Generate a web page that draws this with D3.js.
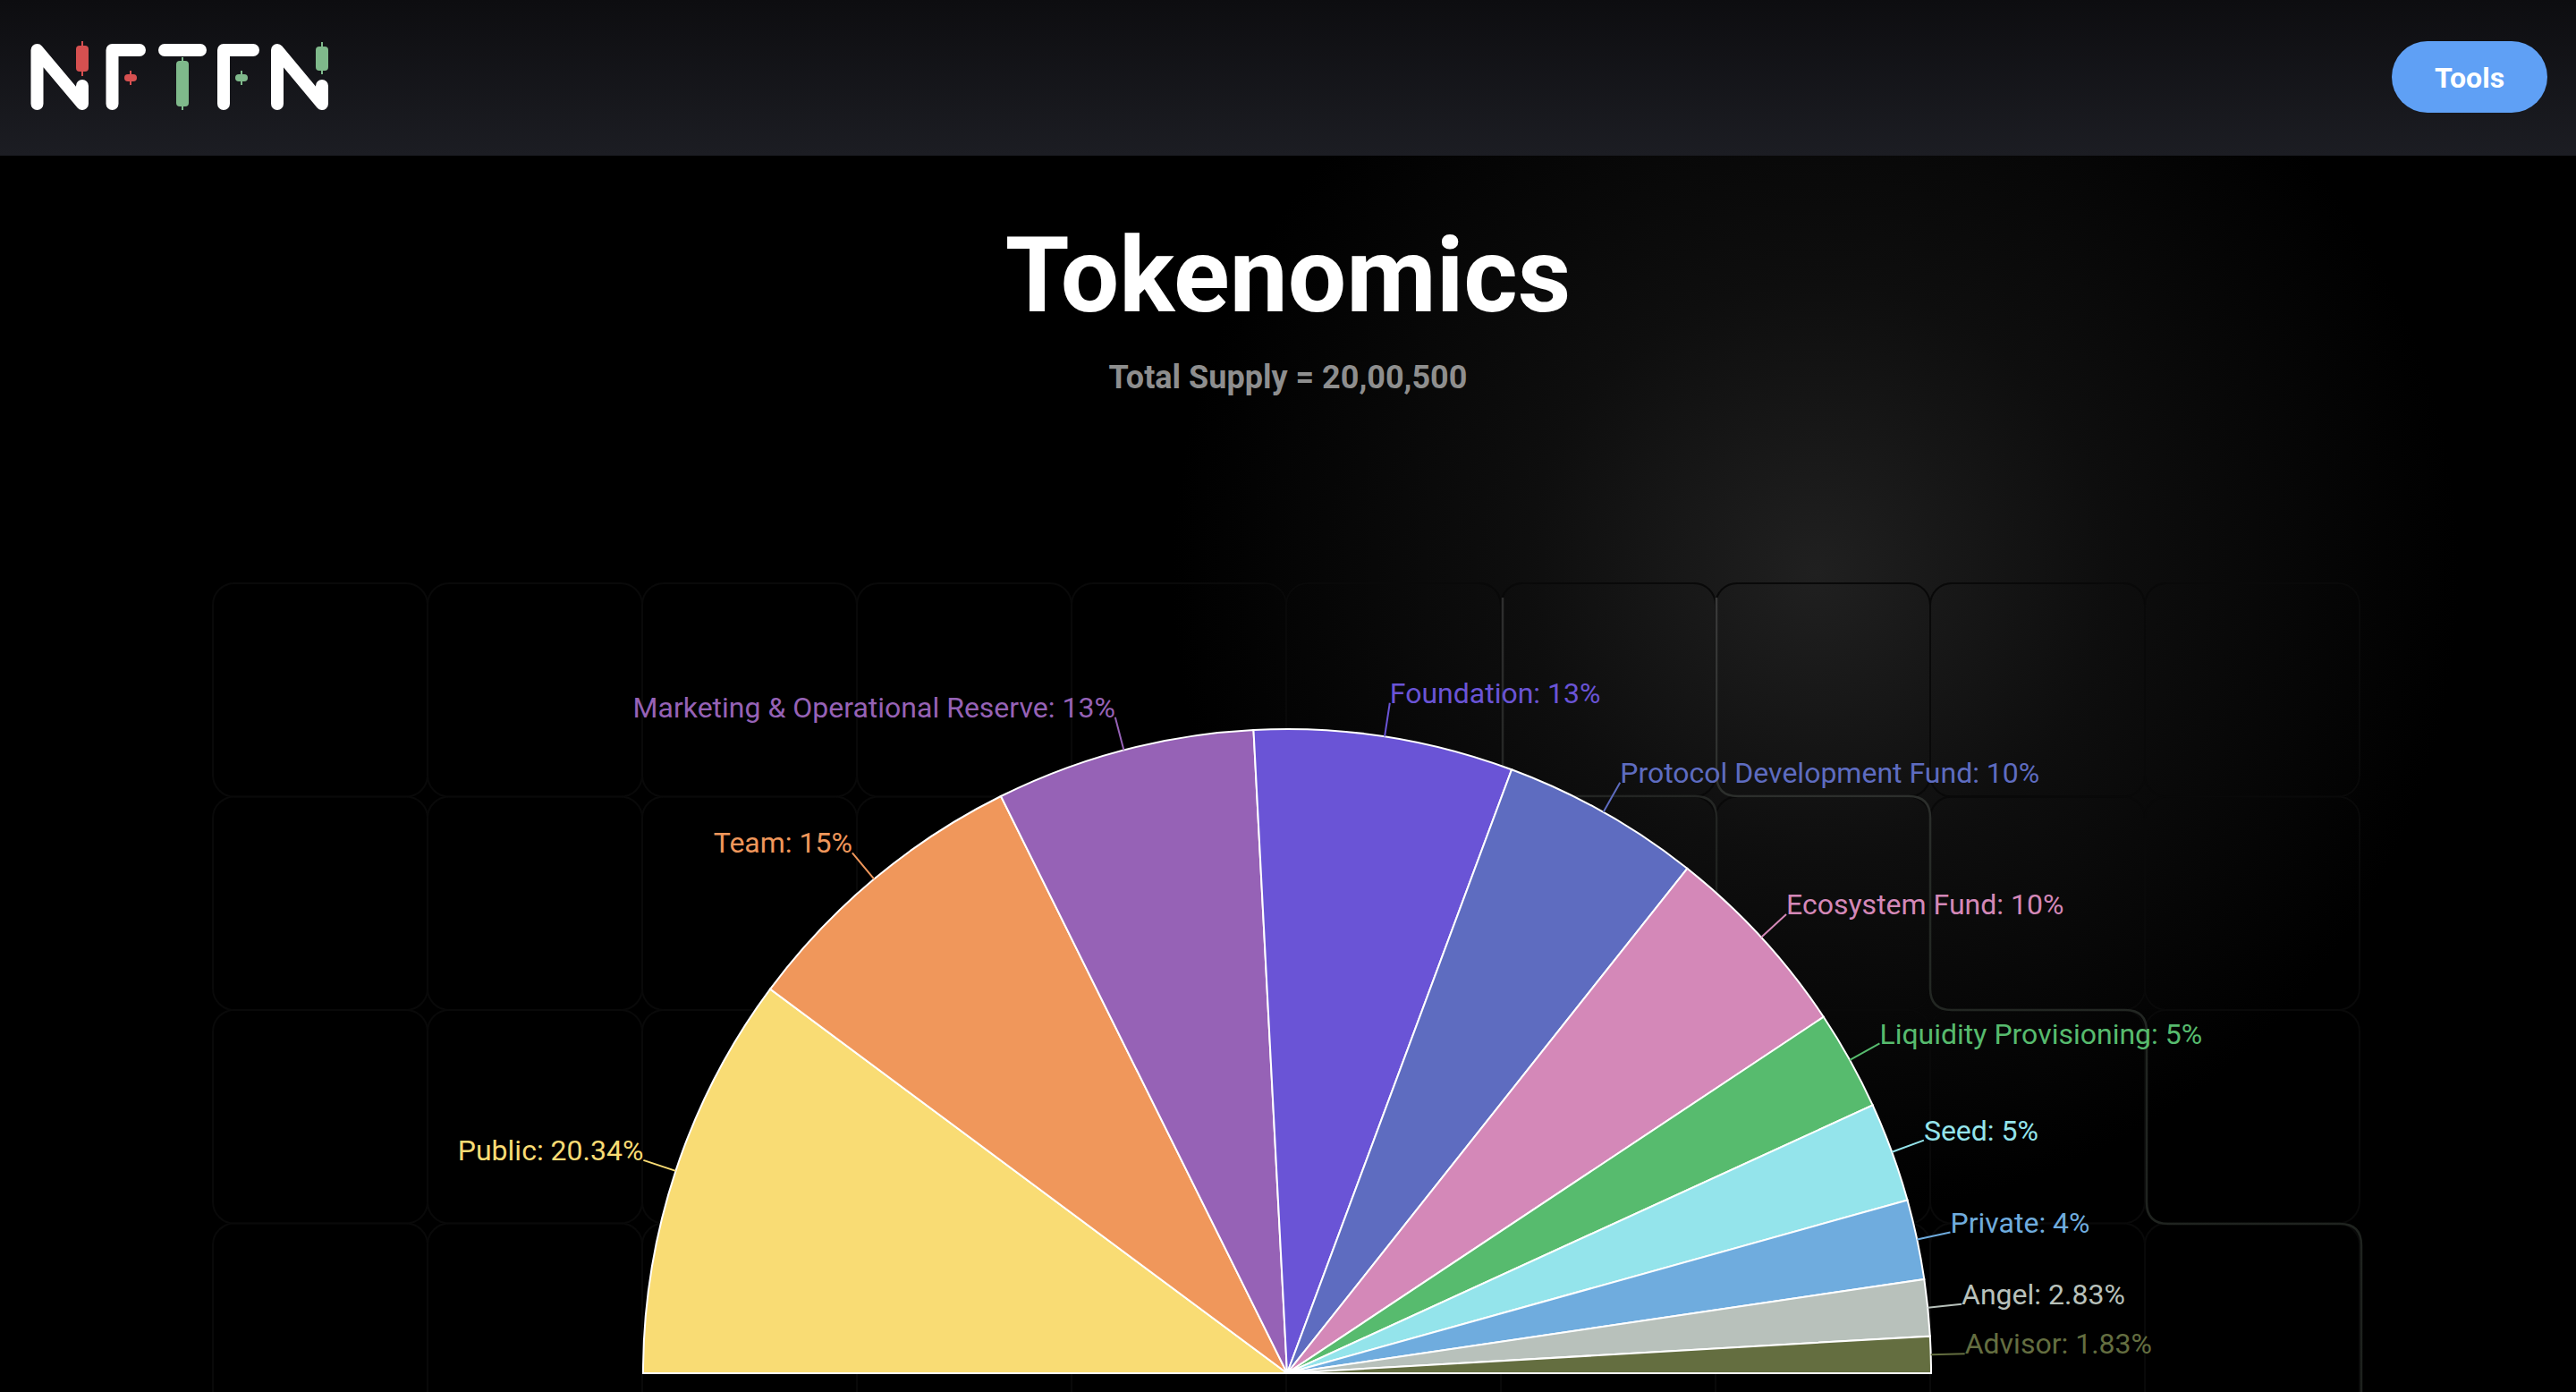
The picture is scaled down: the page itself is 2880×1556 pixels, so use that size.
<!DOCTYPE html>
<html>
<head>
<meta charset="utf-8">
<script src="https://cdn.jsdelivr.net/npm/d3@7"></script>
<style>
html, body { margin: 0; padding: 0; background: #000; overflow: hidden; }
svg { display: block; font-family: Roboto, "Noto Sans", sans-serif; }
</style>
</head>
<body>
<svg id="page" width="2880" height="1556"></svg>
<script>
// tokenomics split
var categories = ["Public", "Team", "Marketing & Operational Reserve", "Foundation",
  "Protocol Development Fund", "Ecosystem Fund", "Liquidity Provisioning",
  "Seed", "Private", "Angel", "Advisor"];
var shares = [20.34, 15, 13, 13, 10, 10, 5, 5, 4, 2.83, 1.83];
var palette = ["#f9dc74", "#f0975b", "#9662b6", "#6a54d6", "#5e6cc0", "#d488b8",
  "#57bb6e", "#94e4eb", "#6facde", "#b8c1bb", "#646e40"];
var titleText = "Tokenomics";
var subtitleText = "Total Supply = 20,00,500";
var buttonText = "Tools";

var W = 2880, H = 1556;
var svg = d3.select("#page");
var defs = svg.append("defs");

// ---- background ----
var hg = defs.append("linearGradient").attr("id", "hdr").attr("x1", 0).attr("y1", 0).attr("x2", 0).attr("y2", 1);
hg.append("stop").attr("offset", 0).attr("stop-color", "#0d0d10");
hg.append("stop").attr("offset", 1).attr("stop-color", "#1c1d23");

var glow = defs.append("radialGradient").attr("id", "glow")
  .attr("gradientUnits", "userSpaceOnUse").attr("cx", 2030).attr("cy", 640).attr("r", 720);
glow.append("stop").attr("offset", 0).attr("stop-color", "#202020");
glow.append("stop").attr("offset", 0.45).attr("stop-color", "#0e0e0e");
glow.append("stop").attr("offset", 1).attr("stop-color", "#000");

svg.append("rect").attr("width", W).attr("height", H).attr("fill", "#000");
svg.append("rect").attr("y", 174).attr("width", W).attr("height", H - 174).attr("fill", "url(#glow)");

// grid of rounded cells, very faint
var cell = 240, gx0 = 238, gy0 = 652;
var grid = svg.append("g").attr("fill", "none").attr("stroke", "#090909").attr("stroke-width", 2);
d3.range(10).forEach(function(i) {
  d3.range(4).forEach(function(j) {
    grid.append("rect")
      .attr("x", gx0 + i * cell).attr("y", gy0 + j * 238.5)
      .attr("width", cell).attr("height", 238.5)
      .attr("rx", 24);
  });
});

var beam = defs.append("linearGradient").attr("id", "beam")
  .attr("gradientUnits", "userSpaceOnUse").attr("x1", 0).attr("y1", 660).attr("x2", 0).attr("y2", 1556);
beam.append("stop").attr("offset", 0).attr("stop-color", "#3a3a3a");
beam.append("stop").attr("offset", 0.4).attr("stop-color", "#242824");
beam.append("stop").attr("offset", 1).attr("stop-color", "#1d211d");

svg.append("path")
  .attr("d", "M1919,668 V866 Q1919,890 1943,890 H2134 Q2158,890 2158,914 V1105 Q2158,1129 2182,1129 H2376 Q2400,1129 2400,1153 V1344 Q2400,1368 2424,1368 H2616 Q2640,1368 2640,1392 V1556")
  .attr("fill", "none").attr("stroke", "url(#beam)").attr("stroke-width", 2.5);
svg.append("path")
  .attr("d", "M1680,668 V890 M1760,890 H1895 Q1919,890 1919,914 V1100")
  .attr("fill", "none").attr("stroke", "url(#beam)").attr("stroke-width", 2.5).attr("opacity", 0.75);

// ---- header ----
svg.append("rect").attr("width", W).attr("height", 174).attr("fill", "url(#hdr)");

var logo = svg.append("g");
logo.append("path")
  .attr("d", "M41.5,116 V56 L92,116 V96 M125.5,116 V56 H156 M184,56 H224 M250,116 V56 H283 M310,116 V56 L360,116 V96")
  .attr("fill", "none").attr("stroke", "#fff").attr("stroke-width", 14)
  .attr("stroke-linecap", "round").attr("stroke-linejoin", "round");
var candles = [
  {x: 92, y0: 51, y1: 80, w0: 46, w1: 85, c: "#d65050"},
  {x: 146, y0: 83, y1: 91, w0: 79, w1: 95, c: "#d65050"},
  {x: 204, y0: 68, y1: 119, w0: 64, w1: 123, c: "#7fb98b"},
  {x: 270, y0: 83, y1: 91, w0: 79, w1: 95, c: "#7fb98b"},
  {x: 360, y0: 52, y1: 79, w0: 47, w1: 83, c: "#7fb98b"}
];
candles.forEach(function(k) {
  logo.append("line").attr("x1", k.x).attr("x2", k.x).attr("y1", k.w0).attr("y2", k.w1)
    .attr("stroke", k.c).attr("stroke-width", 2);
  logo.append("rect").attr("x", k.x - 7).attr("y", k.y0).attr("width", 14).attr("height", k.y1 - k.y0)
    .attr("rx", 4).attr("fill", k.c);
});

svg.append("rect").attr("x", 2674).attr("y", 46).attr("width", 174).attr("height", 80)
  .attr("rx", 40).attr("fill", "#5fa0f5");
svg.append("text").attr("x", 2761).attr("y", 97.5).attr("text-anchor", "middle")
  .attr("fill", "#fff").attr("font-size", 32).attr("font-weight", 700).text(buttonText);

// ---- titles ----
svg.append("text").attr("x", 1440).attr("y", 348).attr("text-anchor", "middle")
  .attr("fill", "#fff").attr("font-size", 116).attr("font-weight", 700).text(titleText);
svg.append("text").attr("x", 1440).attr("y", 434).attr("text-anchor", "middle")
  .attr("fill", "#8e8e8e").attr("font-size", 36).attr("font-weight", 700).text(subtitleText);

// ---- half pie ----
var data = categories.map(function(c, i) { return {name: c, value: shares[i]}; });
var color = d3.scaleOrdinal().domain(categories).range(palette);
var radius = 720;
var cx = 1439, cy = 1535;

var pie = d3.pie().sort(null).value(function(d) { return d.value; })
  .startAngle(-Math.PI / 2).endAngle(Math.PI / 2);
var arc = d3.arc().innerRadius(0).outerRadius(radius);
var labelArc = d3.arc().innerRadius(radius + 38).outerRadius(radius + 38);
var edgeArc = d3.arc().innerRadius(radius).outerRadius(radius);

var g = svg.append("g").attr("transform", "translate(" + cx + "," + cy + ")");
var arcs = pie(data);

g.selectAll("path.slice")
  .data(arcs)
  .enter().append("path")
    .attr("class", "slice")
    .attr("d", arc)
    .attr("fill", function(d) { return color(d.data.name); })
    .attr("stroke", "#fff")
    .attr("stroke-width", 2);

g.selectAll("line.lead")
  .data(arcs)
  .enter().append("line")
    .attr("class", "lead")
    .attr("x1", function(d) { return edgeArc.centroid(d)[0]; })
    .attr("y1", function(d) { return edgeArc.centroid(d)[1]; })
    .attr("x2", function(d) { return labelArc.centroid(d)[0]; })
    .attr("y2", function(d) { return labelArc.centroid(d)[1]; })
    .attr("stroke", function(d) { return color(d.data.name); })
    .attr("stroke-width", 2);

g.selectAll("text.lbl")
  .data(arcs)
  .enter().append("text")
    .attr("class", "lbl")
    .attr("x", function(d) { return labelArc.centroid(d)[0]; })
    .attr("y", function(d) { return labelArc.centroid(d)[1]; })
    .attr("text-anchor", function(d) { return labelArc.centroid(d)[0] < 0 ? "end" : "start"; })
    .attr("fill", function(d) { return color(d.data.name); })
    .attr("font-size", 32)
    .text(function(d) { return d.data.name + ": " + d.data.value + "%"; });
</script>
</body>
</html>
